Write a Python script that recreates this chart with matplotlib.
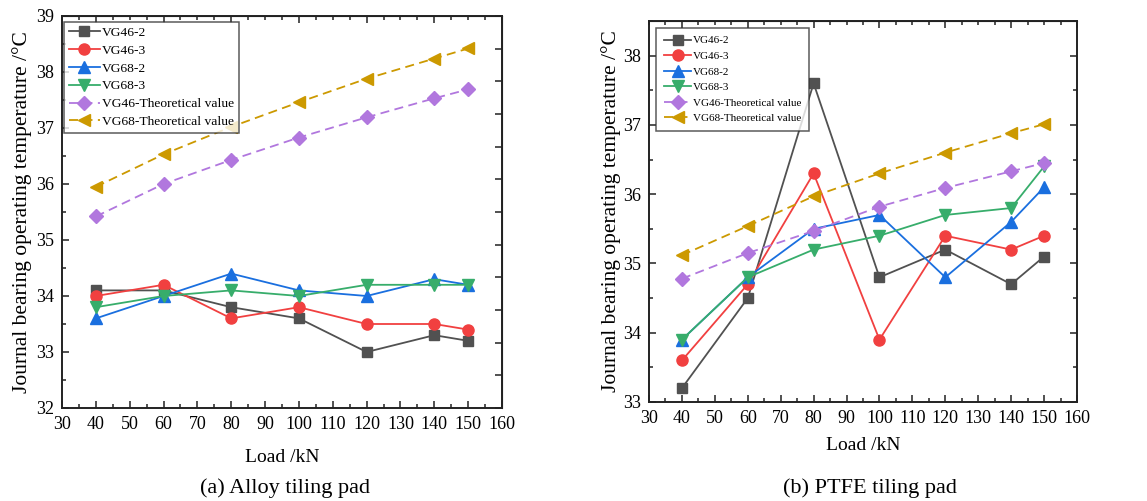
import numpy as np
import matplotlib
matplotlib.use('Agg')
import matplotlib.pyplot as plt
from matplotlib.ticker import MultipleLocator

plt.rcParams['font.family'] = ['Liberation Serif', 'DejaVu Serif']

# ---------------- data ----------------
load = [40, 60, 80, 100, 120, 140, 150]
labels = ['VG46-2', 'VG46-3', 'VG68-2', 'VG68-3',
          'VG46-Theoretical value', 'VG68-Theoretical value']

# (a) Alloy tiling pad
alloy_vg46_2 = [34.1, 34.1, 33.8, 33.6, 33.0, 33.3, 33.2]
alloy_vg46_3 = [34.0, 34.2, 33.6, 33.8, 33.5, 33.5, 33.4]
alloy_vg68_2 = [33.6, 34.0, 34.4, 34.1, 34.0, 34.3, 34.2]
alloy_vg68_3 = [33.8, 34.0, 34.1, 34.0, 34.2, 34.2, 34.2]
alloy_vg46_th = [35.42, 36.0, 36.43, 36.83, 37.19, 37.53, 37.69]
alloy_vg68_th = [35.95, 36.53, 37.02, 37.46, 37.88, 38.24, 38.42]

# (b) PTFE tiling pad
ptfe_vg46_2 = [33.2, 34.5, 37.6, 34.8, 35.2, 34.7, 35.1]
ptfe_vg46_3 = [33.6, 34.7, 36.3, 33.9, 35.4, 35.2, 35.4]
ptfe_vg68_2 = [33.9, 34.8, 35.5, 35.7, 34.8, 35.6, 36.1]
ptfe_vg68_3 = [33.9, 34.8, 35.2, 35.4, 35.7, 35.8, 36.4]
ptfe_vg46_th = [34.78, 35.15, 35.47, 35.82, 36.09, 36.33, 36.45]
ptfe_vg68_th = [35.12, 35.54, 35.97, 36.30, 36.60, 36.88, 37.01]

colors = ['#515151', '#F14040', '#1A6FDF', '#37AD6B', '#B177DE', '#CC9900']
markers = ['s', 'o', '^', 'v', 'D', '<']
msizes = [7.5, 8, 8, 8, 7, 8]
styles = ['-', '-', '-', '-', (0, (5, 3)), (0, (5, 3))]

fig = plt.figure(figsize=(11.47, 5.01), dpi=100)
ax1 = fig.add_axes([62 / 1147, 1 - 408 / 501, 440 / 1147, 392 / 501])
ax2 = fig.add_axes([649 / 1147, 1 - 402 / 501, 428 / 1147, 381 / 501])


def draw(ax, series, ylim, leg_fs, leg_anchor, leg_space, hlen, bpad, xlpad, ylpad):
    for i, y in enumerate(series):
        ax.plot(load, y, color=colors[i], marker=markers[i], markersize=msizes[i],
                linestyle=styles[i], linewidth=1.3, label=labels[i])
    ax.set_xlim(30, 160)
    ax.set_ylim(*ylim)
    ax.xaxis.set_major_locator(MultipleLocator(10))
    ax.xaxis.set_minor_locator(MultipleLocator(5))
    ax.yaxis.set_major_locator(MultipleLocator(1))
    ax.yaxis.set_minor_locator(MultipleLocator(0.5))
    ax.tick_params(which='both', direction='in', labelsize=13, colors='#222222',
                   labelcolor='black', width=1.1, pad=6)
    ax.tick_params(which='major', length=5)
    ax.tick_params(which='minor', length=3)
    for sp in ax.spines.values():
        sp.set_linewidth(1.4)
        sp.set_color('#222222')
    ax.set_xlabel('Load /kN', fontsize=14, labelpad=xlpad)
    ax.set_ylabel('Journal bearing operating temperature /°C', fontsize=15.5, labelpad=ylpad)
    # top ticks
    top = ax.secondary_xaxis('top')
    top.xaxis.set_major_locator(MultipleLocator(20))
    top.xaxis.set_minor_locator(MultipleLocator(5))
    top.tick_params(which='both', direction='in', labeltop=False, width=1.1, colors='#222222')
    top.tick_params(which='major', length=5)
    top.tick_params(which='minor', length=3)
    leg = ax.legend(loc='upper left', bbox_to_anchor=leg_anchor, fontsize=leg_fs,
                    frameon=True, fancybox=False, edgecolor='#333333',
                    borderaxespad=0, labelspacing=leg_space, handlelength=hlen,
                    handletextpad=0.15, borderpad=bpad)
    leg.get_frame().set_linewidth(1.1)
    return top


draw(ax1, [alloy_vg46_2, alloy_vg46_3, alloy_vg68_2, alloy_vg68_3, alloy_vg46_th, alloy_vg68_th],
     (32, 39), 9.7, (0.0045, 0.985), 0.4, 2.3, 0.35, 11, 2.5)
right1 = ax1.secondary_yaxis('right')
right1.set_yticks(np.linspace(32, 39, 13))
right1.tick_params(direction='in', labelright=False, length=5, width=1.1, colors='#222222')

draw(ax2, [ptfe_vg46_2, ptfe_vg46_3, ptfe_vg68_2, ptfe_vg68_3, ptfe_vg46_th, ptfe_vg68_th],
     (33, 38.5), 8, (0.016, 0.982), 0.52, 2.5, 0.7, 7, 1)
ax2.tick_params(which='both', right=True)

fig.text(285 / 1147, 1 - 488 / 501, '(a) Alloy tiling pad', fontsize=16, ha='center', va='center')
fig.text(870 / 1147, 1 - 488 / 501, '(b) PTFE tiling pad', fontsize=16, ha='center', va='center')

fig.savefig('out.png', dpi=100)
